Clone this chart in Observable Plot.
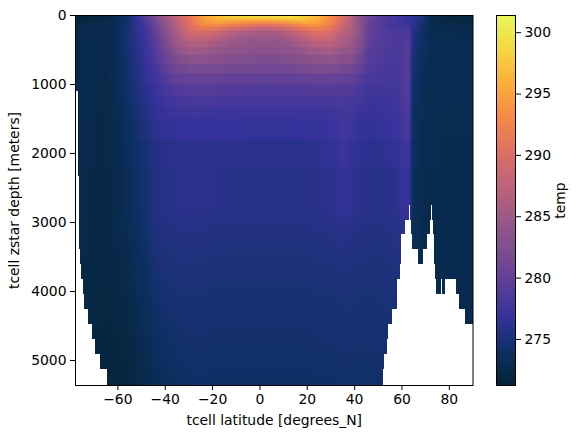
<!DOCTYPE html>
<html><head><meta charset="utf-8">
<script src="https://cdn.jsdelivr.net/npm/d3@7"></script>
<script src="https://cdn.jsdelivr.net/npm/@observablehq/plot@0.6"></script>
<style>html,body{margin:0;padding:0;background:#fff}#c{position:relative;width:580px;height:438px}#c>*{position:absolute;top:0}</style>
</head><body><div id="c"></div>
<script>
const thermal = ["rgb(3,35,51)","rgb(13,48,100)","rgb(53,50,155)","rgb(93,62,153)","rgb(126,77,143)","rgb(158,89,135)","rgb(193,100,121)","rgb(225,113,97)","rgb(246,139,69)","rgb(251,177,57)","rgb(244,216,62)","rgb(231,250,90)"];
const tempDomain = [271.25, 301.4];
const tempTicks = [275, 280, 285, 290, 295, 300];
const latTicks = [-60, -40, -20, 0, 20, 40, 60, 80];
const depthTicks = [0, 1000, 2000, 3000, 4000, 5000];
const lats = [-78,-72,-66,-60,-55,-50,-45,-40,-35,-30,-24,-18,-12,-6,0,6,12,18,24,30,35,38,42,46,50,54,58,61,63,64.5,68,72,78,84,90];
const bandTop = [0,15,40,70,110,160,220,290,370,460,570,700,840,1000,1160,1320,1500,1800,2200,2800,3500,4300];
const bandBottom = [15,40,70,110,160,220,290,370,460,570,700,840,1000,1160,1320,1500,1800,2200,2800,3500,4300,5362];
const temps = [
[271.6,271.8,272,273,274.6,278.2,281.5,285,288,291,295,296.8,298,299,299.6,299.6,299.3,298.3,296.3,293.5,290,288,283.5,281,279.5,278.5,277.8,277,276.5,276.2,275.5,273,272,271.8,271.8],
[271.7,271.9,272.1,273,274.6,278,281.2,284.8,287.8,290.8,294.7,296.6,297.5,298,298.2,298.6,298.9,298,296.2,293.4,289.8,287.5,283.3,281,279.4,278.4,277.7,277,276.5,276.2,275.4,273,272.1,271.9,271.9],
[271.8,272.1,272.4,273.2,274.7,277.7,280.8,284.5,287.6,290.7,294.5,296,296.3,296.3,296,296.5,297.3,297.3,295.8,293,289.5,287.4,283.2,280.8,279.3,278.3,277.6,277,276.6,276.2,275.3,273,272.2,272,272],
[272,272.3,272.6,273.3,274.8,277.4,280.4,284,287.3,290.5,294,295,294.5,294,293.5,293.8,294.5,295.7,295,292.6,289,287.2,283.5,280.6,279.2,278.2,277.6,277.2,276.9,276.2,275,273,272.4,272.2,272.2],
[272.2,272.6,272.6,273.3,274.9,277.1,280,283.6,287,290.2,293,293.3,292.3,291.5,290.8,291,291.8,293.3,293.8,292,288.5,286.8,283.5,280.4,279,278,277.5,277.6,277.4,276.2,274.7,273,272.6,272.4,272.4],
[272.4,272.8,272.5,273.4,275,276.9,279.6,283.2,286.6,289.6,291.5,291,289.5,288.5,287.8,288,289,291,292.2,291,287.8,286.6,283.6,280.2,279.2,278.4,277.9,278,278,276,274.5,273,272.8,272.6,272.6],
[272.6,272.8,272.5,273.4,275,276.8,279.2,282.7,286,288.6,289.5,288.5,287,286,285.5,285.6,286.8,288.8,290.2,289.5,287,286.2,283.5,280,279.2,278.5,278,278.4,278.4,275.8,274.3,273,272.9,272.8,272.7],
[272.7,272.8,272.5,273.4,275,276.6,278.9,282.2,285.3,287.5,287.7,286.7,285.5,284.7,284.4,284.5,285.5,287,288.6,288.3,286.2,285.6,283.2,279.7,279,278.4,278,278.6,278.6,275.6,274.1,273,273,272.9,272.8],
[272.8,272.8,272.5,273.4,275,276.5,278.6,281.7,284.5,286.3,286.2,285.3,284.5,284,283.8,283.9,284.5,285.6,287,287,285.4,285,282.8,279.5,279,278.4,278,278.8,278.8,275.4,274,273.1,273,273,272.9],
[272.8,272.8,272.5,273.4,274.9,276.4,278.3,281.1,283.6,285,284.8,284.2,283.6,283.3,283.2,283.2,283.6,284.4,285.3,285.5,284.4,284.2,282.2,279.2,278.8,278.3,278,278.9,278.9,275.2,273.8,273.1,273,273,272.9],
[272.8,272.8,272.5,273.4,274.8,276.2,278,280.4,282.4,283.3,283.3,283,282.6,282.4,282.3,282.3,282.6,283,283.6,283.8,283,283,281.2,278.9,278.6,278.2,278,278.8,278.8,275,273.7,273.1,273,273,272.9],
[272.8,272.8,272.5,273.3,274.7,276,277.6,279.6,281,281.6,281.7,281.6,281.4,281.3,281.2,281.2,281.4,281.6,282,282,281.5,281.5,280.2,278.5,278.3,278,277.9,278.8,278.8,274.8,273.6,273.1,273,273,272.9],
[272.8,272.8,272.4,273.3,274.6,275.8,277.2,278.8,279.8,280.2,280.2,280.1,280,279.9,279.8,279.8,279.9,280,280.2,280.2,280,280,279,278,278,277.8,277.8,278.7,278.7,274.6,273.5,273.1,273,273,272.9],
[272.8,272.7,272.4,273.2,274.5,275.6,276.8,278,278.7,278.9,279,278.9,278.8,278.7,278.6,278.6,278.7,278.8,278.9,278.9,278.9,278.8,278.2,277.5,277.6,277.6,277.7,278.6,278.6,274.4,273.4,273,273,273,272.9],
[272.8,272.7,272.4,273.1,274.3,275.4,276.5,277.4,277.9,278,278,278,277.9,277.8,277.8,277.8,277.8,277.9,277.9,278,278.1,278,277.6,277.1,277.3,277.3,277.5,278.5,278.5,274.2,273.3,273,273,273,272.9],
[272.8,272.7,272.4,273,274.1,275.2,276.2,276.9,277.3,277.4,277.4,277.3,277.3,277.2,277.2,277.2,277.2,277.3,277.3,277.4,277.8,277.7,277.2,276.8,277,277,277.3,278.3,278.3,274,273.2,273,273,272.9,272.9],
[272.8,272.6,272.3,272.9,273.9,274.9,275.8,276.4,276.7,276.8,276.8,276.7,276.7,276.6,276.6,276.6,276.6,276.7,276.7,276.9,277.6,277.3,276.7,276.4,276.6,276.7,277,277.9,277.9,273.9,273.1,272.9,272.9,272.9,272.9],
[272.8,272.6,272.3,272.8,273.7,274.6,275.4,275.9,276.1,276.2,276.2,276.1,276.1,276,276,276,276,276,276.1,276.4,277.2,276.8,276.3,276,276.1,276.2,276.6,277.4,277.2,273.8,273,272.9,272.8,272.8,272.8],
[272.8,272.5,272.3,272.7,273.4,274.3,275.3,275.7,275.9,276,275.9,275.9,275.8,275.8,275.7,275.7,275.7,275.8,275.9,276.1,276.6,276.3,275.9,275.7,275.7,275.8,276.1,276.8,276.6,273.6,272.9,272.8,272.8,272.8,272.8],
[272.7,272.4,272.2,272.6,273.2,274,275,275.4,275.5,275.5,275.5,275.4,275.4,275.4,275.4,275.4,275.4,275.4,275.5,275.6,275.8,275.6,275.5,275.4,275.4,275.5,275.7,276,275.6,273.5,272.8,272.8,272.8,272.8,272.8],
[272.7,272.3,272.1,272.3,272.8,273.5,274.3,274.8,274.9,274.9,274.9,274.8,274.8,274.8,274.8,274.8,274.8,274.8,274.9,274.9,275,275,274.9,274.9,274.9,275,275.1,275.1,274,273.4,272.8,272.8,272.8,272.8,272.8],
[272.6,272.1,271.8,271.8,272,272.5,273,273.5,273.8,274,274.1,274,274,274,274,274,274,274,274.1,274.1,274.2,274.2,274.2,274.2,274.2,274.3,274.4,274.5,274,273.4,272.8,272.8,272.8,272.8,272.8]
];
// sea floor: white blocks [south lat, north lat, top depth, bottom depth]
const floorSouth = [-77.9,-77.9,-77.9,-77.9,-77.9,-77.9,-77.9,-77.9,-77.9,-77.9,-77.9,-77.9,63.0,72.3,61.3,71.9,60.0,70.6,60.0,68.9,59.2,58.3,76.5,78.2,57.9,56.2,54.5,53.7,52.8,52.4];
const floorNorth = [-77.3,-76.8,-76.2,-75.8,-75.4,-74.5,-74.1,-72.4,-70.7,-69.4,-67.3,-64.4,63.4,72.7,63.9,73.2,64.3,73.6,66.8,73.6,74.0,74.4,77.0,82.9,84.1,86.7,90,90,90,90];
const floorTop = [942,1101,2333,3391,3609,3826,4043,4261,4478,4696,4913,5130,2754,2754,2971,2971,3174,3174,3391,3391,3609,3826,3826,3826,4043,4261,4478,4696,4913,5130];
const floorBottom = [1101,2333,3391,3609,3826,4043,4261,4478,4696,4913,5130,5362,2971,2971,3174,3174,3391,3391,3609,3609,3826,4043,4043,4043,4261,4478,4696,4913,5130,5362];

const samples = [];
temps.forEach((row, j) => row.forEach((t, i) => {
  if (j < 19) {
    samples.push({lat: lats[i], depth: bandTop[j], t}, {lat: lats[i], depth: bandBottom[j] - 1, t});
  } else {
    samples.push({lat: lats[i], depth: j === 21 ? bandBottom[j] : (bandTop[j] + bandBottom[j]) / 2, t});
  }
}));
const floor = floorSouth.map((s, i) => ({s, n: floorNorth[i], top: floorTop[i], bottom: floorBottom[i]}));
const color = {domain: tempDomain, interpolate: d3.piecewise(d3.interpolateRgb, thermal), type: "linear"};
const font = {fontFamily: "DejaVu Sans", fontSize: "13.9px", color: "#000", background: "#fff"};

const main = Plot.plot({
  width: 580, height: 438, marginLeft: 75, marginRight: 107.5, marginTop: 15, marginBottom: 53,
  style: font, color,
  x: {domain: [-77.9, 90]},
  y: {domain: [0, 5362], reverse: true},
  marks: [
    Plot.raster(samples, {x: "lat", y: "depth", fill: "t", interpolate: "barycentric", pixelSize: 1}),
    Plot.rect(floor, {x1: "s", x2: "n", y1: "top", y2: "bottom", fill: "#fff", shapeRendering: "crispEdges"}),
    Plot.frame({stroke: "#000", strokeWidth: 1}),
    Plot.axisX({ticks: latTicks, tickFormat: d3.format("d"), tickSize: 5, tickPadding: 4, label: "tcell latitude [degrees_N]", labelAnchor: "center", labelArrow: "none", labelOffset: 39}),
    Plot.axisY({ticks: depthTicks, tickFormat: d3.format("d"), tickSize: 5, tickPadding: 4, label: "tcell zstar depth [meters]", labelAnchor: "center", labelArrow: "none", labelOffset: 66})
  ]
});
document.getElementById("c").appendChild(main);

const barLevels = d3.range(tempDomain[0], tempDomain[1], 0.1);
const bar = Plot.plot({
  width: 100, height: 438, marginLeft: 16, marginRight: 65, marginTop: 15, marginBottom: 53,
  style: font, color,
  x: {domain: [0, 1], axis: null},
  y: {domain: tempDomain},
  marks: [
    Plot.rect(barLevels, {x1: 0, x2: 1, y1: d => d, y2: d => Math.min(d + 0.2, tempDomain[1]), fill: d => d, shapeRendering: "crispEdges"}),
    Plot.frame({stroke: "#000", strokeWidth: 1}),
    Plot.axisY({anchor: "right", ticks: tempTicks, tickFormat: d3.format("d"), tickSize: 5, tickPadding: 4, label: "temp", labelAnchor: "center", labelArrow: "none", labelOffset: 49})
  ]
});
bar.style.left = "480px";
document.getElementById("c").appendChild(bar);
</script></body></html>
